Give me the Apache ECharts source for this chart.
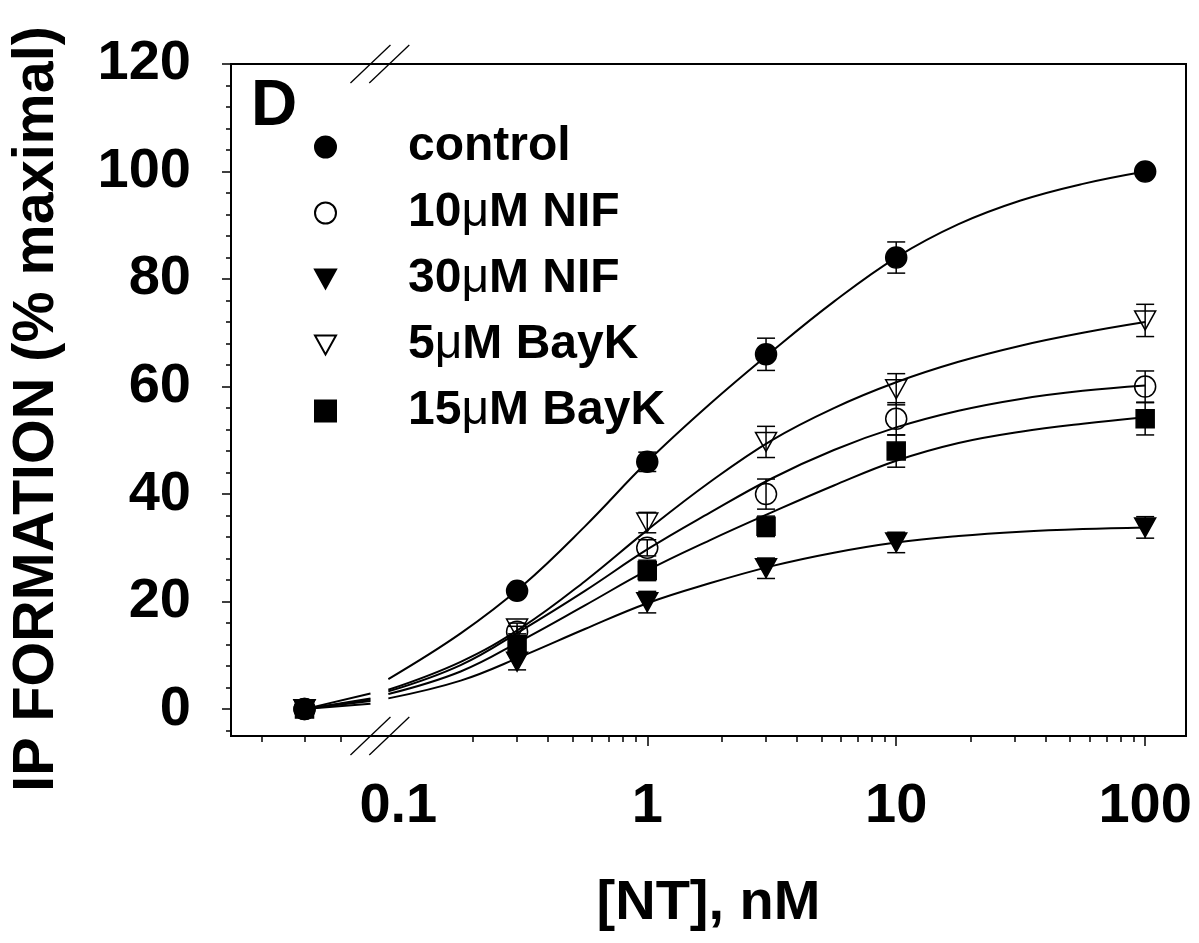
<!DOCTYPE html>
<html>
<head>
<meta charset="utf-8">
<script src="https://cdn.jsdelivr.net/npm/echarts@6/dist/echarts.min.js"></script>
<style>html,body{margin:0;padding:0;background:#fff}#c{width:1199px;height:943px}</style>
</head>
<body>
<div id="c"></div>
<script>
// ---------- data ----------
const doses = [0, 0.3, 1, 3, 10, 100];          // [NT], nM (0 = no NT)
const seriesNames = ['control', '10μM NIF', '30μM NIF', '5μM BayK', '15μM BayK'];
const control   = [0, 22.0, 46.0, 66.0, 84.0, 100.0];
const nif10     = [0, 14.4, 30.0, 40.0, 54.0, 60.0];
const nif30     = [0, 8.8, 19.9, 26.2, 31.0, 33.8];
const bayk5     = [0, 15.0, 34.7, 49.7, 59.5, 72.3];
const bayk15    = [0, 11.9, 25.8, 34.0, 48.0, 54.0];
const controlErr = [0, 0.8, 1.8, 3.0, 2.9, 0];
const nif10Err   = [0, 1.0, 1.5, 2.8, 3.0, 2.9];
const nif30Err   = [0, 1.5, 2.0, 1.9, 1.9, 2.0];
const bayk5Err   = [0, 1.0, 1.9, 2.9, 2.9, 3.0];
const bayk15Err  = [0, 1.8, 1.9, 1.9, 3.0, 3.0];
// fitted curves (right of the axis break)
const fitDoses   = [0.0912, 0.178, 0.316, 0.562, 1, 1.78, 3.16, 5.62, 10, 17.8, 31.6, 56.2, 100];
const controlFit = [5.6, 14.1, 23.0, 34.0, 46.0, 56.7, 66.5, 75.8, 84.0, 90.2, 94.6, 97.7, 100];
const nif10Fit   = [3.3, 8.2, 14.8, 22.0, 29.7, 36.5, 42.9, 48.2, 52.4, 55.5, 57.7, 59.2, 60.2];
const nif30Fit   = [2.0, 5.3, 9.9, 14.9, 19.7, 23.4, 26.6, 29.1, 31.0, 32.2, 33.0, 33.5, 33.8];
const bayk5Fit   = [3.6, 8.8, 15.3, 23.8, 33.3, 42.2, 50.0, 56.0, 60.8, 64.6, 67.6, 70.0, 72.0];
const bayk15Fit  = [2.8, 7.0, 12.9, 19.3, 25.8, 31.4, 36.6, 41.6, 46.2, 49.5, 51.6, 53.1, 54.3];
// fitted curve value where it meets the break (left segment end)
const fitAtBreakLeft = [2.9, 1.8, 1.0, 2.0, 1.5];
// axis ticks
const xTickLabels = ['0.1', '1', '10', '100'];
const xLabelDoses = [0.1, 1, 10, 100];
const xMajorTickDoses = [1, 10, 100];
const xMinorTickDoses = [0.0283, 0.042, 0.0586, 0.2, 0.3, 0.4, 0.5, 0.6, 0.7, 0.8, 0.9,
  2, 3, 4, 5, 6, 7, 8, 9, 20, 30, 40, 50, 60, 70, 80, 90];
const yTickLabels = [0, 20, 40, 60, 80, 100, 120];
const yMinorTicks = [-4, 4, 8, 12, 16, 24, 28, 32, 36, 44, 48, 52, 56, 64, 68, 72, 76, 84, 88, 92, 96, 104, 108, 112, 116];

// ---------- axis layout constants ----------
const X_MIN = 0.02128, X_MAX = 145.9;   // visible dose range (log axis)
const Y_MIN = -5, Y_MAX = 120;
const ZERO_DOSE_AT = 0.042;             // where dose 0 sits, left of the break
const BREAK_LEFT = 0.0773, BREAK_RIGHT = 0.0920;

const FONT = '"Liberation Sans", Arial, Helvetica, sans-serif';
const L = v => Math.log10(v);
const px = d => (d === 0 ? L(ZERO_DOSE_AT) : L(d));

const values = [control, nif10, nif30, bayk5, bayk15];
const errs = [controlErr, nif10Err, nif30Err, bayk5Err, bayk15Err];
const fits = [controlFit, nif10Fit, nif30Fit, bayk5Fit, bayk15Fit];
const DOWN_TRI = 'path://M0,0L20,0L10,18Z';
const symbols = [
  {symbol: 'circle', size: 21, fill: '#000'},
  {symbol: 'circle', size: 21, fill: 'rgba(0,0,0,0)'},
  {symbol: DOWN_TRI, size: 21, fill: '#000'},
  {symbol: DOWN_TRI, size: 21, fill: 'rgba(0,0,0,0)'},
  {symbol: 'rect', size: 18, fill: '#000'}
];

const series = [];
// fitted curves
fits.forEach((f, i) => {
  series.push({
    name: 'fitL' + i, type: 'line', z: 2, silent: true, symbol: 'none',
    data: [[px(0), 0], [L(BREAK_LEFT), fitAtBreakLeft[i]]],
    lineStyle: {color: '#000', width: 2}
  });
  series.push({
    name: 'fit' + i, type: 'line', z: 2, silent: true, symbol: 'none', smooth: 0.4,
    data: fitDoses.map((d, k) => [L(d), f[k]]),
    lineStyle: {color: '#000', width: 2}
  });
});
// error bars
function errRender(params, api) {
  const x = api.value(0), y = api.value(1), e = api.value(2);
  if (!e) return null;
  const t = api.coord([x, y + e]), b = api.coord([x, y - e]);
  const hw = 9, st = {stroke: '#000', lineWidth: 1.5};
  return {type: 'group', children: [
    {type: 'line', shape: {x1: t[0], y1: t[1], x2: b[0], y2: b[1]}, style: st},
    {type: 'line', shape: {x1: t[0] - hw, y1: t[1], x2: t[0] + hw, y2: t[1]}, style: st},
    {type: 'line', shape: {x1: b[0] - hw, y1: b[1], x2: b[0] + hw, y2: b[1]}, style: st}
  ]};
}
values.forEach((v, i) => {
  series.push({
    name: 'err' + i, type: 'custom', z: 3, silent: true, renderItem: errRender,
    data: doses.map((d, k) => [px(d), v[k], errs[i][k]])
  });
});
// markers
values.forEach((v, i) => {
  const s = symbols[i];
  series.push({
    name: seriesNames[i], type: 'scatter', z: 4, symbol: s.symbol, symbolSize: s.size, symbolKeepAspect: true,
    itemStyle: {color: s.fill, borderColor: '#000', borderWidth: 1.5, opacity: 1},
    data: doses.map((d, k) => [px(d), v[k]])
  });
});
// axis break marks
series.push({
  name: 'break', type: 'custom', z: 5, silent: true, clip: false,
  renderItem: function (params, api) {
    const st = {stroke: '#000', lineWidth: 1.3};
    const ch = [];
    [Y_MIN, Y_MAX].forEach(yv => {
      [api.value(0), api.value(1)].forEach(xv => {
        const p = api.coord([xv, yv]);
        ch.push({type: 'line', shape: {x1: p[0] - 20, y1: p[1] + 19, x2: p[0] + 20, y2: p[1] - 19}, style: st});
      });
    });
    return {type: 'group', children: ch};
  },
  data: [[L(BREAK_LEFT), L(BREAK_RIGHT)]]
});

const chart = echarts.init(document.getElementById('c'), null, {renderer: 'canvas'});
const boldText = (size) => ({color: '#000', fontSize: size, fontWeight: 'bold', fontFamily: FONT});
chart.setOption({
  animation: false,
  backgroundColor: '#fff',
  title: {text: 'D', left: 251, top: 75, padding: 0, textStyle: boldText(64)},
  legend: {
    data: seriesNames, orient: 'vertical', left: 314, top: 123, padding: 0,
    itemWidth: 21, itemHeight: 21, itemGap: 18, selectedMode: false, symbolKeepAspect: true,
    textStyle: Object.assign(boldText(48), {lineHeight: 48, padding: [0, 0, 0, 67],
      rich: {mu: {fontSize: 48, fontWeight: 'normal', fontFamily: FONT, color: '#000'}}}),
    formatter: n => n.replace('μ', '{mu|μ}')
  },
  grid: {left: 227, right: 13, top: 64, bottom: 207, show: true, borderColor: '#000', borderWidth: 2, backgroundColor: 'transparent'},
  xAxis: [{
    type: 'value', min: L(X_MIN), max: L(X_MAX), position: 'bottom',
    axisLine: {show: true, onZero: false, lineStyle: {color: '#000', width: 2}},
    axisTick: {show: true, customValues: xMajorTickDoses.map(L), length: 10, lineStyle: {color: '#000', width: 1.5}},
    axisLabel: Object.assign(boldText(56), {
      customValues: xLabelDoses.map(L), margin: 43,
      formatter: v => xTickLabels[xLabelDoses.findIndex(d => Math.abs(L(d) - v) < 1e-6)]
    }),
    splitLine: {show: false},
    name: '[NT], nM', nameLocation: 'middle', nameGap: 140, nameTextStyle: boldText(56)
  }, {
    type: 'value', min: L(X_MIN), max: L(X_MAX), position: 'bottom',
    axisLine: {show: false, onZero: false},
    axisTick: {show: true, customValues: xMinorTickDoses.map(L), length: 6, lineStyle: {color: '#000', width: 1.5}},
    axisLabel: {show: false}, splitLine: {show: false}
  }],
  yAxis: [{
    type: 'value', min: Y_MIN, max: Y_MAX, position: 'left',
    axisLine: {show: true, onZero: false, lineStyle: {color: '#000', width: 2}},
    axisTick: {show: true, customValues: yTickLabels, length: 9, lineStyle: {color: '#000', width: 1.5}},
    axisLabel: Object.assign(boldText(56), {customValues: yTickLabels, margin: 40}),
    splitLine: {show: false},
    name: 'IP FORMATION (% maximal)', nameLocation: 'middle', nameGap: 165,
    nameTextStyle: Object.assign(boldText(57.5), {padding: [0, 18, 0, 0]})
  }, {
    type: 'value', min: Y_MIN, max: Y_MAX, position: 'left', offset: 0,
    axisLine: {show: false, onZero: false},
    axisTick: {show: true, customValues: yMinorTicks, length: 5, lineStyle: {color: '#000', width: 1.5}},
    axisLabel: {show: false}, splitLine: {show: false}
  }],
  series: series
});
</script>
</body>
</html>
